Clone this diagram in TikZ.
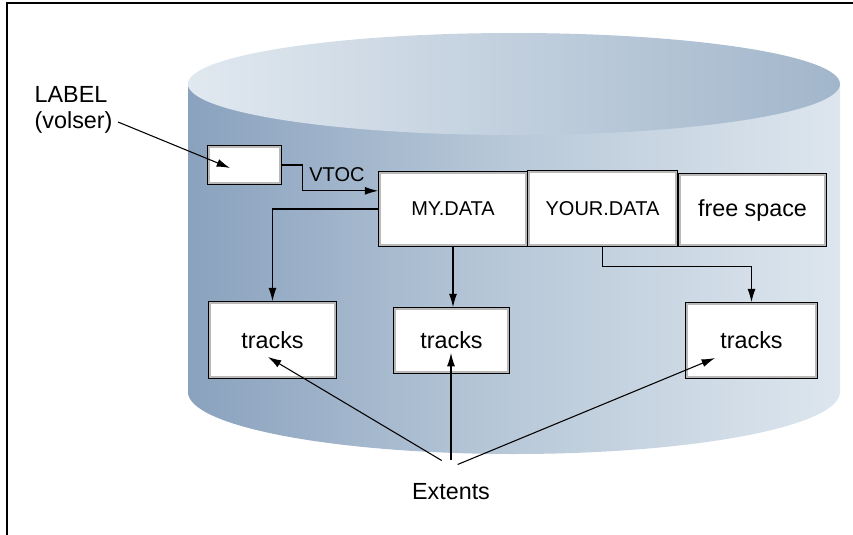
\documentclass[tikz,border=0pt]{standalone}
\usepackage{fontspec}
\setmainfont{Liberation Sans}
\usepackage{tikz}
\usetikzlibrary{arrows.meta,calc}

\definecolor{cyldark}{HTML}{8AA2BE}
\definecolor{cylmid}{HTML}{B9C9D9}
\definecolor{cyllight}{HTML}{DDE6EE}
\definecolor{topdark}{HTML}{A2B6CB}

\begin{document}
\begin{tikzpicture}[x=0.75pt,y=-0.75pt,
    box/.style={draw,line width=1.3pt,fill=white,inner sep=0pt},
    big/.style={font=\fontsize{17.5}{20}\selectfont},
    small/.style={font=\fontsize{15}{18}\selectfont},
    arr/.style={-{Latex[length=10pt,width=6pt]},line width=0.8pt}]
    \useasboundingbox (0,0) rectangle (853,535);

    % Frame
    \draw[line width=1pt] (7,535) -- (7,3) -- (853,3);

    % Disk cylinder
    \shade[left color=cyldark,right color=cyllight,middle color=cylmid]
      (188,84) -- (188,392) arc[start angle=180,end angle=0,x radius=326,y radius=62] -- (840,84) -- cycle;
    \shade[left color=cyllight!90!white,right color=topdark]
      (514,84) ellipse[x radius=326,y radius=51];

    % Label and VTOC entries
    \node[big,align=left,anchor=west] (labeltxt) at (30,110) {LABEL\\(volser)};
    \node[box,minimum width=54.75pt,minimum height=28.5pt] (lblbox) at (244.5,165) {};
    \node[box,small,minimum width=111pt,minimum height=55.5pt] (mydata) at (453,209) {MY.DATA};
    \node[box,small,minimum width=111.75pt,minimum height=56.25pt] (yourdata) at (602.5,208.5) {YOUR.DATA};
    \node[box,big,minimum width=110.25pt,minimum height=54pt] (free) at (752.5,210) {free space};

    % Tracks
    \node[box,big,minimum width=95.25pt,minimum height=57pt] (trk1) at (272.5,340) {tracks};
    \node[box,big,minimum width=86.25pt,minimum height=48.75pt] (trk2) at (451.5,340.5) {tracks};
    \node[box,big,minimum width=98.25pt,minimum height=56.25pt] (trk3) at (751.5,340.5) {tracks};

    % Inner grey rims
    \foreach \n in {lblbox,mydata,yourdata,free,trk1,trk2,trk3}
      \draw[gray!55,line width=1.6pt]
        ([shift={(1.5pt,1.5pt)}]\n.south west) rectangle ([shift={(-1.5pt,-1.5pt)}]\n.north east);

    \node[big] (ext) at (451,492) {Extents};

    % Connectors
    \coordinate (lblhit) at (230,168);
    \draw[arr] (118,122) -- (lblhit);
    \draw[arr] (lblbox.east) -- ++(21,0) |- ($(mydata.north west)!0.26!(mydata.south west)$);
    \node[small] (vtoc) at (337,175) {VTOC};
    \draw[arr] (mydata.west) -| (trk1.north);
    \draw[arr] (mydata.south) -- (mydata.south |- trk2.north);
    \draw[arr] (yourdata.south) -- ++(0,20) -| (trk3.north);

    % Extents pointers
    \coordinate (hit1) at (268,357);
    \coordinate (hit2) at (451,353);
    \coordinate (hit3) at (715,358);
    \draw[arr] ([xshift=-7pt,yshift=14pt]ext.north) -- (hit1);
    \draw[arr] ([yshift=14pt]ext.north) -- (hit2);
    \draw[arr] ([xshift=5pt,yshift=11pt]ext.north) -- (hit3);
\end{tikzpicture}
\end{document}
